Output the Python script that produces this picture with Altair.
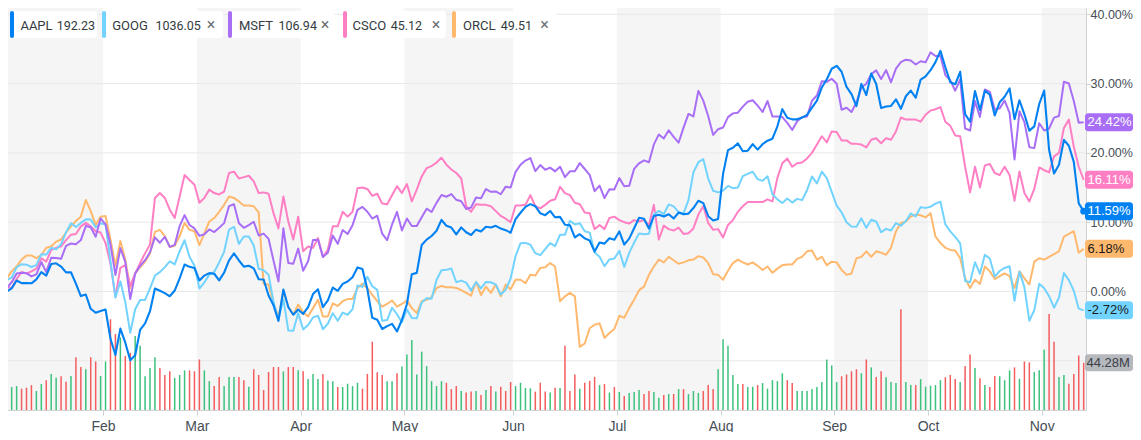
import json
import altair as alt
import pandas as pd

# ---------------- data ----------------
TICKERS = ["AAPL", "GOOG", "MSFT", "CSCO", "ORCL"]
LAST_PRICES = ["192.23", "1036.05", "106.94", "45.12", "49.51"]
COLORS = {"AAPL": "#0081f2", "GOOG": "#72d3ff", "MSFT": "#a86ef6", "CSCO": "#ff7fc4", "ORCL": "#ffb96e"}
BADGE_TEXT = {"AAPL": "#ffffff", "GOOG": "#1a1a1a", "MSFT": "#ffffff", "CSCO": "#ffffff", "ORCL": "#1a1a1a"}

# trading days 2 Jan 2018 .. 13 Nov 2018 (index 0..219)
MONTH_FIRST_DAY = [0, 21, 40, 61, 82, 104, 125, 146, 169, 188, 211]
MONTH_LABELS = ["2018", "Feb", "Mar", "Apr", "May", "Jun", "Jul", "Aug", "Sep", "Oct", "Nov"]
Y_TICKS = [-10, 0, 10, 20, 30, 40]

AAPL_CLOSE = [
    172.26, 172.23, 173.03, 175.00, 174.35, 174.33, 174.29, 175.28, 177.09, 176.19, 179.10, 179.26, 178.46, 177.00, 177.04, 174.22, 171.11, 171.51, 167.96, 166.97, 167.43,
    167.78, 160.50, 156.49, 163.03, 159.54, 155.15, 156.41, 162.71, 164.34, 167.37, 172.99, 172.43, 171.85, 171.07, 172.50, 175.50, 178.97, 178.39, 178.12,
    175.00, 176.21, 176.82, 176.67, 175.03, 176.94, 179.98, 181.72, 179.97, 178.44, 178.65, 178.02, 175.30, 175.24, 171.27, 168.85, 164.94, 172.77, 168.34, 166.48, 167.78,
    166.68, 168.39, 171.61, 172.80, 168.38, 170.05, 173.25, 172.44, 174.14, 174.73, 175.82, 178.24, 177.84, 172.80, 165.72, 165.24, 162.94, 163.65, 164.22, 162.32, 165.26,
    169.10, 176.57, 176.89, 183.83, 185.16, 186.05, 187.36, 190.04, 188.59, 188.15, 186.44, 188.18, 186.99, 186.31, 187.63, 187.16, 188.36, 188.15, 188.58, 187.90, 187.50, 186.87,
    190.24, 191.83, 193.31, 193.98, 193.46, 191.70, 191.23, 192.28, 190.70, 190.80, 188.84, 188.74, 185.69, 186.50, 185.46, 184.92, 182.17, 184.43, 184.16, 185.50, 185.11,
    187.18, 183.92, 185.40, 187.97, 190.58, 190.35, 187.88, 191.03, 191.33, 190.91, 191.45, 190.40, 191.88, 191.44, 191.61, 193.00, 194.82, 194.21, 190.98, 189.91, 190.29,
    201.50, 207.39, 207.99, 209.07, 207.11, 207.25, 208.88, 207.53, 208.87, 209.75, 210.24, 213.32, 217.58, 215.46, 215.04, 215.05, 215.49, 216.16, 217.94, 219.70, 222.98, 225.03, 227.63,
    228.36, 226.87, 223.10, 221.30, 218.33, 223.85, 221.07, 226.41, 223.84, 217.88, 218.24, 218.37, 220.03, 217.66, 220.79, 222.19, 220.42, 224.95, 225.74,
    227.26, 229.28, 232.07, 227.99, 224.29, 223.77, 226.87, 216.36, 214.45, 222.11, 217.36, 222.15, 221.19, 216.02, 219.31, 220.65, 222.73, 215.09, 219.80, 216.30, 212.24, 213.30, 218.86,
    222.22, 207.48, 201.59, 203.77, 209.95, 208.49, 204.47, 194.17, 192.23,
]

GOOG_CLOSE = [
    1065.00, 1082.48, 1086.40, 1102.23, 1106.94, 1106.26, 1102.61, 1105.52, 1122.26, 1121.76, 1131.98, 1129.79, 1137.51, 1155.81, 1169.97, 1164.24, 1170.37, 1175.84, 1175.58, 1163.69, 1169.94,
    1167.70, 1111.90, 1055.80, 1080.60, 1048.58, 1001.52, 1037.78, 1051.94, 1052.10, 1069.70, 1089.52, 1094.80, 1102.46, 1111.34, 1106.63, 1126.79, 1143.75, 1118.29, 1104.73,
    1069.52, 1078.92, 1090.93, 1095.06, 1109.64, 1126.00, 1160.04, 1164.50, 1138.17, 1149.49, 1149.58, 1135.73, 1099.82, 1097.71, 1090.88, 1049.08, 1021.57, 1053.21, 1005.10, 1004.56, 1031.79,
    1006.47, 1013.41, 1025.14, 1027.81, 1007.04, 1015.45, 1031.64, 1019.97, 1032.51, 1029.27, 1037.98, 1074.16, 1072.08, 1087.70, 1072.96, 1067.45, 1019.98, 1021.18, 1040.04, 1030.05, 1017.33,
    1037.31, 1024.38, 1023.72, 1048.21, 1054.79, 1053.91, 1082.76, 1097.57, 1098.26, 1100.20, 1079.23, 1081.77, 1078.59, 1066.36, 1079.58, 1069.73, 1079.69, 1079.24, 1075.66, 1060.32, 1067.80, 1084.99,
    1119.50, 1139.29, 1139.66, 1136.88, 1123.86, 1120.87, 1129.99, 1139.32, 1134.79, 1152.12, 1152.26, 1173.46, 1168.06, 1169.84, 1157.66, 1155.48, 1124.81, 1118.46, 1103.98, 1114.22, 1115.65,
    1127.46, 1102.89, 1124.27, 1140.17, 1154.05, 1152.84, 1153.90, 1183.48, 1188.82, 1183.86, 1198.80, 1195.88, 1186.96, 1184.91, 1205.50, 1248.08, 1263.70, 1268.33, 1238.50, 1219.74, 1217.26,
    1220.01, 1227.22, 1223.71, 1224.77, 1242.22, 1245.61, 1249.10, 1237.61, 1235.01, 1242.10, 1214.38, 1206.49, 1200.96, 1207.77, 1201.62, 1207.33, 1205.38, 1220.65, 1241.82, 1231.15, 1249.30, 1239.12, 1218.19,
    1197.00, 1186.48, 1171.44, 1164.83, 1164.64, 1177.36, 1162.82, 1175.33, 1172.53, 1156.05, 1161.22, 1158.78, 1170.06, 1166.09, 1173.37, 1184.65, 1180.49, 1194.64, 1193.47,
    1195.31, 1200.11, 1202.95, 1168.19, 1157.35, 1148.97, 1138.82, 1081.22, 1079.32, 1110.08, 1092.25, 1121.28, 1115.69, 1087.97, 1096.46, 1101.16, 1103.69, 1050.71, 1095.57, 1071.47, 1020.08, 1036.21, 1076.77,
    1070.00, 1057.79, 1040.09, 1055.81, 1093.39, 1082.40, 1066.15, 1038.63, 1036.05,
]

MSFT_CLOSE = [
    85.95, 86.35, 87.11, 88.19, 88.28, 88.22, 87.82, 88.08, 89.60, 88.35, 90.14, 90.10, 90.00, 91.61, 91.90, 91.82, 92.33, 94.06, 93.92, 92.74, 95.01,
    94.26, 91.78, 88.00, 91.33, 89.61, 85.01, 88.18, 89.13, 89.83, 90.81, 92.66, 92.00, 92.72, 91.49, 91.73, 94.06, 95.42, 94.20, 93.77,
    92.85, 93.05, 93.64, 93.32, 93.86, 94.43, 96.54, 96.77, 94.41, 93.85, 94.18, 94.60, 92.89, 93.13, 92.48, 89.79, 87.18, 93.78, 89.47, 89.39, 91.27,
    88.52, 89.71, 92.33, 92.38, 90.23, 90.77, 92.88, 91.86, 93.58, 93.08, 94.17, 96.07, 96.44, 95.84, 95.00, 95.35, 93.12, 92.31, 94.26, 95.82, 93.52,
    95.00, 94.07, 94.07, 95.16, 96.22, 95.81, 96.94, 97.91, 97.70, 98.03, 97.32, 97.15, 96.18, 96.36, 97.60, 97.50, 98.66, 98.31, 98.36, 98.01, 98.95, 98.84,
    100.79, 101.67, 102.19, 102.49, 100.88, 101.63, 101.05, 101.31, 100.85, 101.42, 100.13, 100.86, 100.86, 101.87, 101.14, 100.41, 98.39, 99.08, 97.54, 98.63, 98.61,
    100.01, 98.99, 99.05, 101.16, 101.85, 102.21, 101.98, 104.19, 105.43, 104.91, 105.95, 105.12, 104.40, 106.27, 107.97, 107.66, 110.83, 109.62, 107.68, 105.37, 106.08,
    106.28, 107.57, 108.04, 108.13, 108.88, 109.49, 109.67, 109.00, 108.21, 109.56, 107.66, 107.64, 107.58, 106.87, 105.98, 107.06, 107.56, 107.66, 109.60, 110.26, 112.02, 111.95, 112.33,
    111.71, 108.49, 108.74, 108.21, 109.38, 111.24, 111.71, 112.91, 113.37, 112.30, 113.40, 111.90, 113.60, 114.40, 114.70, 114.60, 114.10, 114.50, 114.37,
    115.61, 115.15, 115.17, 112.79, 112.13, 110.85, 112.26, 106.16, 105.91, 109.57, 107.60, 111.00, 110.71, 108.50, 108.66, 109.63, 108.10, 102.32, 108.30, 106.96, 103.85, 103.73, 106.81,
    105.92, 106.16, 107.51, 107.72, 111.96, 111.75, 109.57, 106.87, 106.94,
]

# % change since 2 Jan
CSCO_PCT = [
    0.0, 0.6, 0.5, 1.8, 2.8, 2.6, 2.9, 3.3, 4.8, 4.3, 6.0, 6.3, 6.5, 7.4, 8.2, 8.3, 9.4, 9.9, 9.4, 8.7, 8.5,
    7.0, 4.0, -0.8, 3.4, 3.8, 0.8, 2.6, 4.1, 5.5, 6.8, 13.5, 14.2, 13.5, 11.8, 10.6, 13.7, 16.8, 16.1, 15.4,
    12.8, 13.5, 14.7, 14.2, 14.0, 14.4, 17.1, 17.3, 16.3, 16.5, 16.7, 15.9, 14.2, 14.3, 14.1, 11.3, 9.1, 13.7, 10.1, 7.5, 10.8,
    5.8, 6.5, 6.3, 7.7, 5.0, 6.0, 9.4, 9.4, 11.5, 10.8, 11.5, 14.9, 15.0, 14.8, 13.8, 14.1, 12.7, 12.6, 13.9, 15.2, 14.2,
    15.5, 13.0, 14.7, 16.6, 17.8, 18.1, 18.6, 19.3, 18.3, 17.6, 17.1, 16.3, 12.3, 11.5, 12.6, 12.5, 12.5, 12.3, 11.6, 10.9, 10.5, 10.0,
    12.4, 12.4, 12.5, 13.9, 12.3, 12.0, 12.5, 13.1, 13.3, 15.1, 14.2, 13.9, 12.8, 12.6, 11.4, 11.3, 9.0, 9.6, 9.0, 10.6, 10.8,
    10.3, 10.0, 9.8, 10.3, 10.1, 10.3, 9.6, 12.5, 7.5, 9.5, 9.0, 8.8, 9.2, 8.3, 8.4, 9.1, 11.1, 12.3, 9.9, 8.9, 9.0,
    7.8, 9.6, 10.3, 11.5, 12.3, 12.9, 12.9, 12.9, 12.9, 13.3, 13.0, 16.4, 18.5, 19.2, 18.0, 18.5, 18.6, 19.2, 20.0, 21.2, 22.4, 21.5, 23.1,
    23.0, 21.8, 21.8, 21.3, 21.3, 21.2, 20.8, 21.9, 22.1, 21.4, 22.1, 21.9, 23.1, 25.1, 24.8, 24.8, 24.8, 24.5, 25.5,
    26.1, 26.3, 26.6, 24.5, 23.9, 22.5, 22.4, 18.0, 14.3, 18.0, 15.0, 18.2, 18.4, 17.1, 16.8, 18.0, 16.8, 13.1, 17.3, 14.2, 13.0, 14.8, 17.9,
    17.5, 17.2, 19.5, 20.0, 23.6, 24.8, 20.9, 18.0, 16.11,
]

ORCL_PCT = [
    0.0, 1.9, 2.9, 3.6, 4.6, 5.2, 5.2, 4.8, 5.3, 6.3, 6.5, 7.2, 7.5, 8.5, 9.4, 10.2, 10.8, 13.2, 11.6, 9.6, 10.8,
    10.9, 7.5, 3.7, 7.3, 4.6, 0.5, 2.6, 3.5, 4.3, 5.5, 8.6, 8.9, 8.0, 6.4, 6.6, 8.0, 9.9, 8.9, 8.7,
    6.7, 8.4, 10.1, 10.6, 11.5, 12.5, 13.7, 13.5, 13.0, 12.4, 12.4, 12.3, 11.4, 1.1, 1.0, -1.7, -3.7, 0.0, -2.2, -3.3, -1.9,
    -3.0, -3.6, -2.4, -1.2, -3.6, -3.6, -1.7, -2.1, -1.4, -1.1, -1.1, 0.5, 1.1, 0.5, -0.5, -1.4, -2.2, -1.8, -1.3, -2.2, -1.8,
    -1.3, -2.4, -3.1, -1.4, -1.2, -0.8, 0.5, 0.8, 0.6, 0.6, 0.5, 0.2, -0.2, -0.6, 1.4, -0.5, 0.7, -0.2, 1.0, -0.7, 1.0, 0.3,
    1.7, 1.7, 1.2, 2.4, 2.3, 3.4, 3.5, 4.1, 3.6, -1.4, -0.7, -0.2, -0.7, -8.0, -7.5, -5.3, -4.8, -4.6, -6.7, -6.0, -5.4,
    -3.5, -3.8, -2.4, -1.2, 0.2, 0.7, 2.4, 3.6, 4.6, 4.2, 5.0, 4.5, 4.0, 4.2, 4.5, 4.6, 5.1, 4.9, 4.1, 2.5, 2.4,
    1.7, 3.0, 4.1, 4.6, 4.2, 3.9, 4.2, 3.7, 3.1, 3.6, 2.7, 3.3, 3.8, 3.9, 3.9, 4.7, 5.0, 5.8, 5.9, 4.6, 5.0, 3.8, 4.3,
    4.2, 3.1, 2.4, 2.6, 4.8, 5.0, 5.8, 5.0, 5.8, 5.6, 5.3, 6.3, 8.7, 9.9, 10.1, 10.8, 11.1, 11.0, 10.7,
    11.3, 7.9, 7.0, 6.3, 6.0, 5.9, 4.8, 1.9, 0.5, 1.7, 1.1, 3.6, 2.9, 1.8, 2.2, 2.6, 2.2, 0.5, 2.9, 1.9, 1.0, 4.3, 4.8,
    4.6, 5.0, 5.4, 5.8, 7.9, 8.3, 8.7, 5.6, 6.18,
]

# AAPL daily volume, millions of shares
AAPL_VOLUME_M = [
    24.6, 27.9, 21.5, 22.4, 20.0, 20.9, 23.3, 17.8, 24.3, 27.9, 33.8, 30.1, 31.6, 26.4, 31.9, 49.4, 40.2, 38.1, 49.4, 45.4, 31.9,
    45.4, 84.9, 71.1, 68.0, 50.5, 53.6, 69.3, 60.2, 31.6, 39.3, 49.4, 39.3, 32.8, 36.2, 30.1, 32.8, 37.1, 37.1, 36.2,
    47.3, 37.1, 27.0, 22.4, 31.0, 22.4, 31.0, 31.0, 31.0, 27.9, 21.8, 38.1, 32.8, 18.7, 35.6, 40.2, 40.2, 36.2, 40.2, 40.2, 37.1,
    36.2, 28.9, 33.8, 28.9, 33.8, 27.6, 27.0, 21.5, 21.5, 24.6, 22.4, 25.5, 20.0, 33.8, 63.9, 35.3, 32.8, 27.0, 27.0, 34.4, 40.8,
    51.9, 65.5, 33.2, 54.6, 41.1, 27.0, 22.4, 27.0, 25.5, 19.6, 22.4, 17.8, 16.3, 17.2, 17.8, 14.1, 18.7, 22.4, 17.2, 21.8, 17.8, 26.1,
    22.4, 25.5, 20.6, 20.3, 17.2, 25.5, 17.2, 16.3, 20.9, 20.6, 60.2, 17.8, 33.2, 20.0, 25.5, 27.3, 31.0, 23.3, 24.3, 16.3, 21.5,
    16.9, 13.2, 16.0, 16.9, 18.7, 15.0, 17.8, 16.9, 11.4, 14.1, 15.0, 15.0, 19.6, 19.6, 15.0, 17.8, 16.0, 17.8, 23.3, 19.6, 38.1,
    66.2, 60.2, 32.8, 24.3, 24.3, 21.5, 21.8, 23.3, 25.2, 20.0, 27.9, 27.0, 34.4, 27.9, 25.2, 17.8, 17.8, 17.8, 19.6, 21.5, 26.1, 47.3, 41.8,
    26.1, 31.6, 33.2, 36.2, 38.1, 34.4, 47.3, 39.9, 31.0, 36.2, 30.7, 26.1, 25.2, 94.2, 26.1, 23.3, 23.3, 28.9, 21.8,
    22.7, 23.3, 27.9, 30.7, 32.8, 28.9, 26.1, 41.1, 51.9, 39.3, 29.8, 23.3, 21.5, 31.9, 31.6, 27.9, 37.1, 39.9, 29.2, 45.4, 44.5, 35.6, 37.1,
    56.5, 89.9, 63.9, 31.0, 32.8, 24.6, 33.8, 51.0, 44.28,
]

# ---------------- tables ----------------
N = len(AAPL_CLOSE)
pct = {}
for name, closes in (("AAPL", AAPL_CLOSE), ("GOOG", GOOG_CLOSE), ("MSFT", MSFT_CLOSE)):
    pct[name] = [(c / closes[0] - 1.0) * 100.0 for c in closes]
pct["CSCO"] = CSCO_PCT
pct["ORCL"] = ORCL_PCT
for k, v in pct.items():
    assert len(v) == N, (k, len(v))
assert len(AAPL_VOLUME_M) == N

vol_df = pd.DataFrame({
    "i": list(range(N)),
    "vol": AAPL_VOLUME_M,
    "dir": ["up"] + ["up" if AAPL_CLOSE[k] >= AAPL_CLOSE[k - 1] else "down" for k in range(1, N)],
})

bounds = [m - 0.5 for m in MONTH_FIRST_DAY] + [N - 0.5]
band_df = pd.DataFrame([{"start": bounds[k], "end": bounds[k + 1]} for k in range(0, len(MONTH_FIRST_DAY), 2)])

badge_df = pd.DataFrame([{
    "s": t, "pct": pct[t][-1], "label": f"{pct[t][-1]:.2f}%",
    "fill": COLORS[t], "tc": BADGE_TEXT[t],
} for t in TICKERS])

# ---------------- layout / style ----------------
W, H = 1086, 410
FONT = "Liberation Sans"
LEGEND_FONT = "Roboto"
AXIS_GRAY = "#cfd1d3"
LABEL_GRAY = "#464e56"
PX_PER_PCT = 6.93
VOL_M_PER_PX = 0.936

xscale = alt.Scale(domain=[-0.364, 219.47], nice=False, zero=False)
yscale = alt.Scale(domain=[-17.10, 42.06], nice=False, zero=False)
vscale = alt.Scale(domain=[0, H * VOL_M_PER_PX], nice=False, zero=True)

tick_vals = [m - 0.5 for m in MONTH_FIRST_DAY]
xaxis = alt.Axis(
    values=tick_vals,
    labelExpr=f"{json.dumps(MONTH_LABELS)}[indexof({json.dumps(tick_vals)}, datum.value)]",
    title=None, grid=False, domainColor=AXIS_GRAY, tickColor=AXIS_GRAY, tickSize=5,
    labelPadding=4, labelFontSize=14, labelColor=LABEL_GRAY, labelFont=FONT,
    labelFlush=False, labelOverlap=False,
)
yaxis = alt.Axis(
    orient="right", values=Y_TICKS, labelExpr="format(datum.value, '.2f') + '%'",
    title=None, grid=False, domainColor=AXIS_GRAY, tickColor=AXIS_GRAY, tickSize=4,
    labelPadding=0, labelFontSize=12.5, labelColor=LABEL_GRAY, labelFont=FONT,
)

def X(field):
    return alt.X(field, scale=xscale, axis=xaxis)

one = alt.Data(values=[{"k": 0}])
layers = []

# alternating month shading
layers.append(alt.Chart(band_df).mark_rect(color="#f5f5f5", clip=True).encode(
    x=X("start:Q"), x2="end:Q", y=alt.value(0), y2=alt.value(H)))

# horizontal grid + right axis
layers.append(alt.Chart(pd.DataFrame({"v": Y_TICKS})).mark_rule(color="#e8e8e8", strokeWidth=1).encode(
    y=alt.Y("v:Q", scale=yscale, axis=yaxis), x=alt.value(0), x2=alt.value(W)))

# volume bars
layers.append(alt.Chart(vol_df).transform_calculate(zero="0").mark_rule(strokeWidth=1.5).encode(
    x=X("i:Q"),
    y=alt.Y("vol:Q", scale=vscale, axis=None),
    y2="zero:Q",
    color=alt.Color("dir:N", scale=alt.Scale(domain=["up", "down"], range=["#3cc27d", "#f45c5e"]), legend=None),
))

# lines
for t in ["ORCL", "CSCO", "GOOG", "MSFT", "AAPL"]:
    d = pd.DataFrame({"i": list(range(N)), "pct": pct[t]})
    layers.append(alt.Chart(d).mark_line(color=COLORS[t], strokeWidth=2.1 if t == "AAPL" else 2,
                                         strokeJoin="round").encode(
        x=X("i:Q"), y=alt.Y("pct:Q", scale=yscale, axis=None)))

# end-value badges
half = 9 / PX_PER_PCT
layers.append(alt.Chart(badge_df).transform_calculate(
    top=f"datum.pct + {half}", bot=f"datum.pct - {half}").mark_rect(cornerRadius=3).encode(
    x=alt.value(1085), x2=alt.value(1133),
    y=alt.Y("top:Q", scale=yscale, axis=None), y2="bot:Q",
    color=alt.Color("fill:N", scale=None)))
layers.append(alt.Chart(badge_df).mark_text(align="left", baseline="middle", fontSize=13, font=FONT).encode(
    x=alt.value(1087.5), y=alt.Y("pct:Q", scale=yscale, axis=None), text="label:N",
    color=alt.Color("tc:N", scale=None)))
last = pd.DataFrame({"i": [N - 1], "pct": [pct["AAPL"][-1]]})
layers.append(alt.Chart(last).mark_circle(size=48, opacity=1, color=COLORS["AAPL"]).encode(
    x=X("i:Q"), y=alt.Y("pct:Q", scale=yscale, axis=None)))

# volume badge
vb = pd.DataFrame({"vol": [AAPL_VOLUME_M[-1]], "label": [f"{AAPL_VOLUME_M[-1]:.2f}M"]})
vhalf = 8.5 * VOL_M_PER_PX
layers.append(alt.Chart(vb).transform_calculate(top=f"datum.vol + {vhalf}", bot=f"datum.vol - {vhalf}")
              .mark_rect(cornerRadius=3, color="#b5b9be").encode(
    x=alt.value(1085), x2=alt.value(1133),
    y=alt.Y("top:Q", scale=vscale, axis=None), y2="bot:Q"))
layers.append(alt.Chart(vb).mark_text(align="left", baseline="middle", fontSize=13, font=FONT, color="#3b4046").encode(
    x=alt.value(1086.5), y=alt.Y("vol:Q", scale=vscale, axis=None), text="label:N"))

# legend chips (top left): box left/right, ticker start, price start, close-cross centre
chips = {
    "AAPL": (10, 97, 20.4, 56.7, None),
    "GOOG": (102, 223, 112.2, 155.4, 211.0),
    "MSFT": (228, 334, 238.9, 278.5, 325.0),
    "CSCO": (343, 446, 352.6, 390.7, 436.0),
    "ORCL": (452, 556, 463.0, 500.7, 544.5),
}
for t, price in zip(TICKERS, LAST_PRICES):
    x0, x1, tx, px, cx = chips[t]
    layers.append(alt.Chart(one).mark_rect(color="#ffffff", cornerRadius=3).encode(
        x=alt.value(x0), x2=alt.value(x1), y=alt.value(11), y2=alt.value(38)))
    layers.append(alt.Chart(one).mark_rect(color=COLORS[t], cornerRadius=2).encode(
        x=alt.value(x0), x2=alt.value(x0 + 4), y=alt.value(11), y2=alt.value(38)))
    layers.append(alt.Chart(one).mark_text(text=t, align="left", baseline="middle", fontSize=13,
                                           font=LEGEND_FONT, color="#333a40").encode(
        x=alt.value(tx), y=alt.value(25.5)))
    layers.append(alt.Chart(one).mark_text(text=price, align="left", baseline="middle", fontSize=12.5,
                                           font=LEGEND_FONT, color="#333a40").encode(
        x=alt.value(px), y=alt.value(25.5)))
    if cx is not None:
        layers.append(alt.Chart(one).mark_text(text="\u00d7", align="center", baseline="middle", fontSize=16,
                                               font=LEGEND_FONT, color="#6b7075").encode(
            x=alt.value(cx), y=alt.value(25)))

chart = alt.layer(*layers).resolve_scale(y="independent").properties(
    width=W, height=H,
    autosize=alt.AutoSizeParams(type="none"),
    padding={"left": -8, "top": -8, "right": 47, "bottom": 22},
    background="#ffffff",
).configure_view(stroke=None)

chart.save("out.html", embed_options={"renderer": "svg", "actions": False})
